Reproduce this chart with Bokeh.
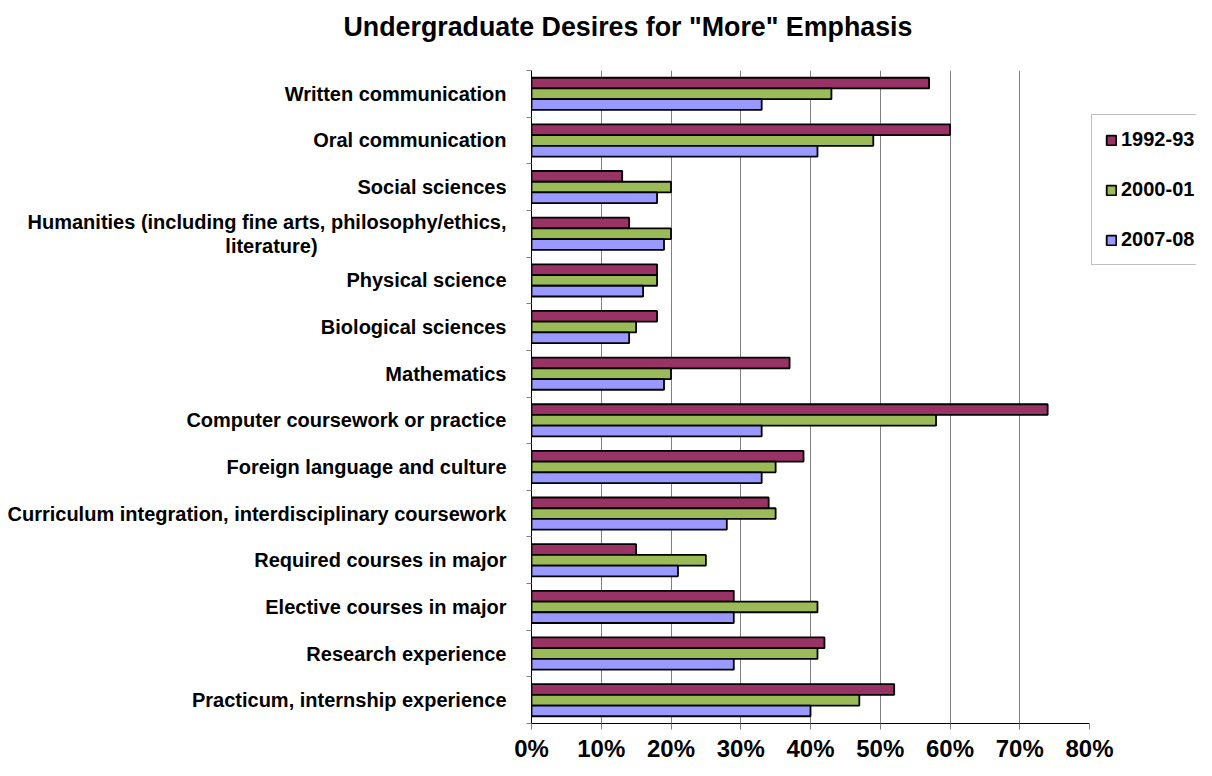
from bokeh.plotting import figure
from bokeh.models import Range1d, FixedTicker, ColumnDataSource, Legend, LegendItem, Title
from bokeh.transform import dodge
from bokeh.embed import file_html
from bokeh.resources import INLINE

title = 'Undergraduate Desires for "More" Emphasis'
categories = [
    "Written communication",
    "Oral communication",
    "Social sciences",
    "Humanities (including fine arts, philosophy/ethics,\nliterature)",
    "Physical science",
    "Biological sciences",
    "Mathematics",
    "Computer coursework or practice",
    "Foreign language and culture",
    "Curriculum integration, interdisciplinary coursework",
    "Required courses in major",
    "Elective courses in major",
    "Research experience",
    "Practicum, internship experience",
]
series_names = ["1992-93", "2000-01", "2007-08"]
v1992 = [57, 60, 13, 14, 18, 18, 37, 74, 39, 34, 15, 29, 42, 52]
v2000 = [43, 49, 20, 20, 18, 15, 20, 58, 35, 35, 25, 41, 41, 47]
v2007 = [33, 41, 18, 19, 16, 14, 19, 33, 33, 28, 21, 29, 29, 40]
x_ticks = [0, 10, 20, 30, 40, 50, 60, 70, 80]
x_tick_labels = ["0%", "10%", "20%", "30%", "40%", "50%", "60%", "70%", "80%"]

colors = ["#993366", "#9BBB59", "#9999FF"]
FONT = "Liberation Sans"

W = 1196
BL, BT = 531, 70
FRAME_W, FRAME_H = W - BL, 653
AXIS_PX = 558                     # pixel length of the 0-80% axis
x_end = x_ticks[-1] * FRAME_W / AXIS_PX

n = len(categories)
pos = [n - 1 - i for i in range(n)]
src = ColumnDataSource(dict(y=pos, a=v1992, b=v2000, c=v2007))

# centre the wrapped second line of a two-line label under its first line
NBSP = "\u00a0"
labels = []
for c in categories:
    if "\n" in c:
        first, second = c.split("\n")
        pad = int(round((len(first) - len(second)) * 0.5 * 9.4 / 5.56))
        labels.append(first + "\n" + second + NBSP * pad)
    else:
        labels.append(c)

p = figure(frame_width=FRAME_W, frame_height=FRAME_H, output_backend="svg", toolbar_location=None,
           x_range=Range1d(0, x_end), y_range=Range1d(-0.5, n - 0.5), title=None,
           min_border_left=BL, min_border_right=0, min_border_top=BT, min_border_bottom=0)
p.outline_line_color = None
p.background_fill_color = "white"
p.border_fill_color = "white"

bh = 0.23
renderers = []
for field, off, col in zip(["a", "b", "c"], [bh, 0.0, -bh], colors):
    r = p.hbar(y=dodge("y", off), right=field, left=0, height=bh, source=src,
               fill_color=col, line_color="black", line_width=1.8)
    renderers.append(r)

# spacer between frame and title, then the title itself
p.add_layout(Title(text=" ", text_font=FONT, text_font_size="24px", standoff=0), "above")
p.add_layout(Title(text=title, text_font=FONT, text_font_size="26.8px", text_font_style="bold",
                   text_color="black", align="left", offset=-188, standoff=0), "above")

# x axis
xa = p.xaxis[0]
xa.bounds = (x_ticks[0], x_ticks[-1])
xa.ticker = FixedTicker(ticks=x_ticks)
xa.major_label_overrides = {t: l for t, l in zip(x_ticks, x_tick_labels)}
xa.major_label_text_font = FONT
xa.major_label_text_font_size = "24px"
xa.major_label_text_font_style = "bold"
xa.major_label_text_color = "black"
xa.major_label_text_line_height = 1.0
xa.axis_line_color = "black"
xa.axis_line_width = 1
xa.major_tick_line_color = "#808080"
xa.major_tick_out = 6
xa.major_tick_in = 0
xa.minor_tick_line_color = None
xa.major_label_standoff = 5

# y axis
ya = p.yaxis[0]
ya.ticker = FixedTicker(ticks=pos, minor_ticks=[k - 0.5 for k in range(n + 1)])
ya.major_label_overrides = {y: c for y, c in zip(pos, labels)}
ya.major_label_text_font = FONT
ya.major_label_text_font_size = "20px"
ya.major_label_text_font_style = "bold"
ya.major_label_text_color = "black"
ya.major_label_text_line_height = 1.1
ya.major_tick_line_color = None
ya.major_tick_out = 0
ya.major_tick_in = 0
ya.minor_tick_line_color = "#808080"
ya.minor_tick_out = 5
ya.minor_tick_in = 0
ya.axis_line_color = "black"
ya.major_label_standoff = 20

# grid
p.ygrid.grid_line_color = None
p.xgrid.ticker = FixedTicker(ticks=x_ticks[1:-1])
p.xgrid.grid_line_color = "#808080"
p.xgrid.grid_line_width = 1

legend = Legend(items=[LegendItem(label=s, renderers=[r]) for s, r in zip(series_names, renderers)],
                location=(AXIS_PX + 2, 458))
legend.label_text_font = FONT
legend.label_text_font_size = "20px"
legend.label_text_font_style = "bold"
legend.label_text_color = "black"
legend.glyph_width = 12
legend.glyph_height = 12
legend.label_standoff = 4
legend.label_height = 20
legend.spacing = 27
legend.padding = 13
legend.margin = 0
legend.border_line_color = "#808080"
legend.border_line_width = 1
legend.background_fill_color = "white"
legend.background_fill_alpha = 1
p.add_layout(legend, "center")

open("out.html", "w").write(file_html(p, INLINE))
